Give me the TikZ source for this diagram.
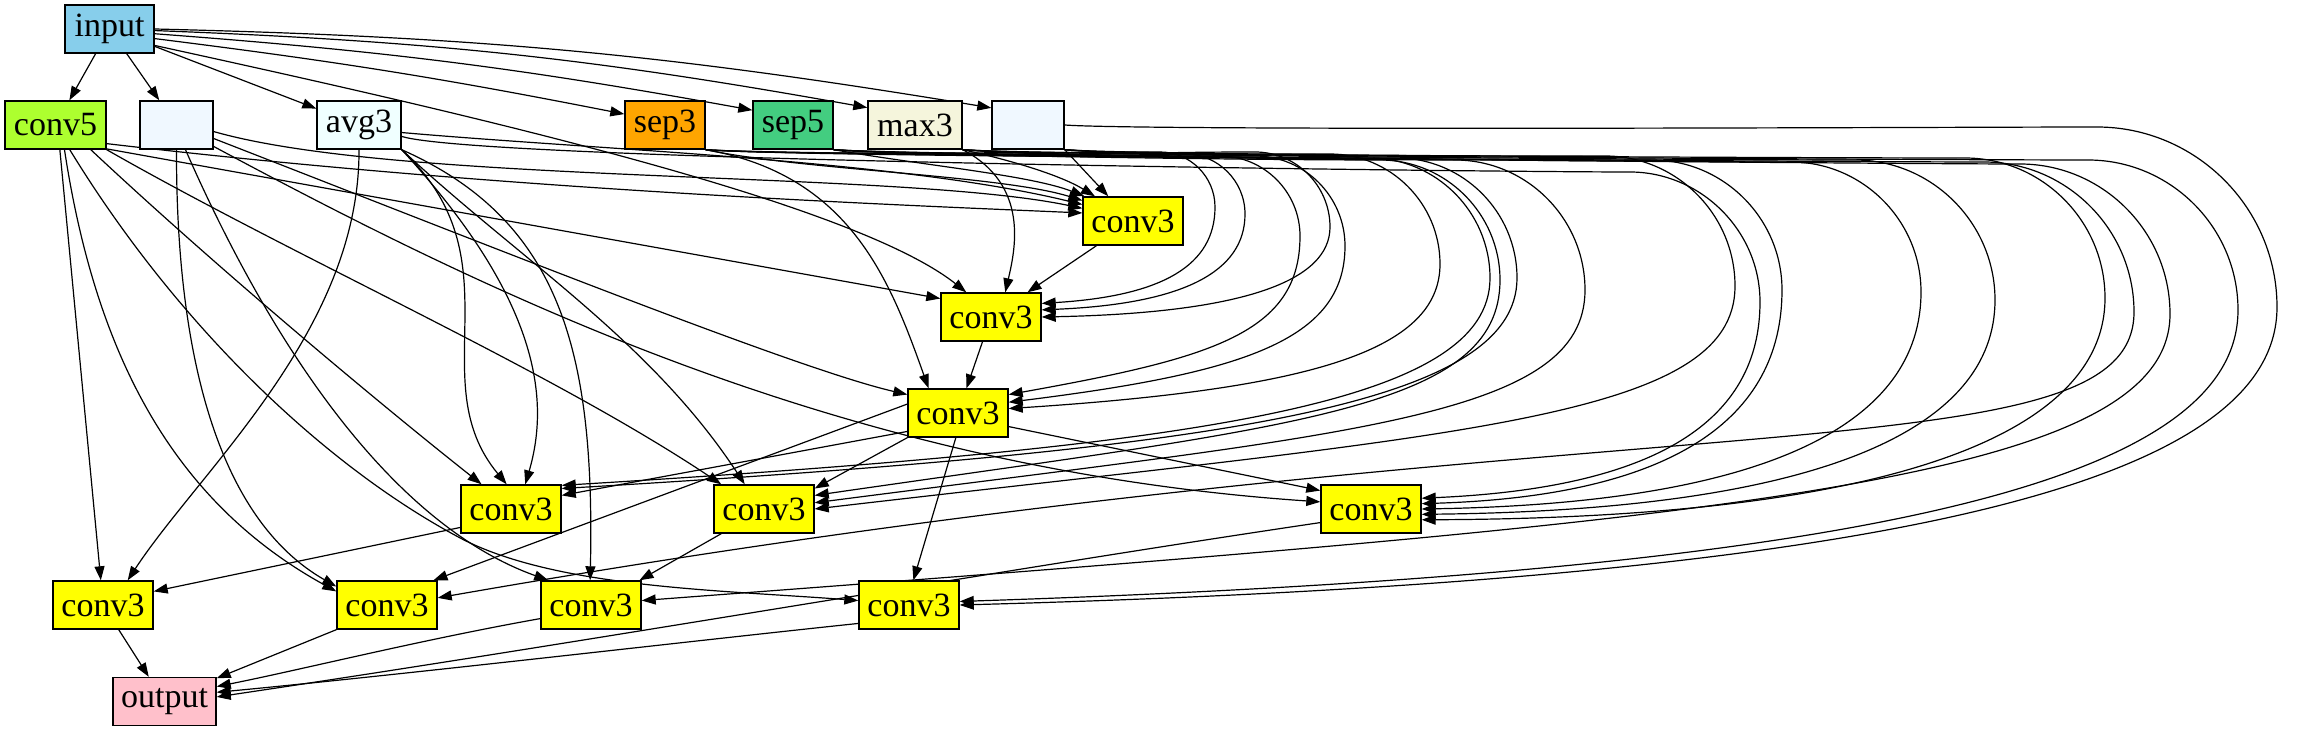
\documentclass[tikz,border=0pt]{standalone}
\usepackage{fontspec}
\setmainfont{Liberation Serif}
\usetikzlibrary{arrows.meta,calc}
\pgfdeclarelayer{bg}
\pgfsetlayers{bg,main}
\definecolor{skyC}{HTML}{87CEEB}
\definecolor{gyC}{HTML}{ADFF2F}
\definecolor{aliceC}{HTML}{F0F8FF}
\definecolor{azureC}{HTML}{F0FFFF}
\definecolor{orangeC}{HTML}{FFA500}
\definecolor{sgC}{HTML}{43CD80}
\definecolor{beigeC}{HTML}{F5F5DC}
\definecolor{pinkC}{HTML}{FFC0CB}
\definecolor{yelC}{HTML}{FFFF00}
% loop edge: src, tgt, xr, ytop, r, ty, tx, dy
\newcommand\rl[8]{\draw[e] (#1) .. controls +(80,6) and ({#3-#5-120},#4) .. ({#3-#5},#4)
  .. controls ({#3-0.45*#5},#4) and (#3,{#4+0.45*#5}) .. (#3,{#4+#5})
  .. controls (#3,{#4+#5+0.6*(#6-#4-#5)}) and ({#3-0.3*(#3-#7)},{#6-#8}) .. (#2);}
\begin{document}
\begin{tikzpicture}[x=0.5pt,y=-0.5pt,
  e/.style={-{Triangle[length=7pt,width=5pt]}, line width=0.6pt},
  box/.style={draw, line width=0.7pt, minimum height=24pt, inner sep=0pt, font=\fontsize{17}{20}\selectfont},
  cv/.style={box, fill=yelC, minimum width=50pt}]
\useasboundingbox (0,0) rectangle (2314,731);
% nodes
\node[box, fill=skyC, minimum width=44.5pt] (in) at (109.5,29) {input};
\node[box, fill=gyC, minimum width=50.5pt] (c5) at (55.5,125) {conv5};
\node[box, fill=aliceC, minimum width=36.5pt] (b1) at (176.5,125) {};
\node[box, fill=azureC, minimum width=42pt] (av) at (359,125) {avg3};
\node[box, fill=orangeC, minimum width=40pt] (s3) at (665,125) {sep3};
\node[box, fill=sgC, minimum width=40pt] (s5) at (793,125) {sep5};
\node[box, fill=beigeC, minimum width=47pt] (mx) at (915,125) {max3};
\node[box, fill=aliceC, minimum width=36pt] (b2) at (1028,125) {};
\node[cv] (A) at (1133,221) {conv3};
\node[cv] (B) at (991,317) {conv3};
\node[cv] (C) at (958,413) {conv3};
\node[cv] (D) at (511,509) {conv3};
\node[cv] (E) at (764,509) {conv3};
\node[cv] (F) at (1371,509) {conv3};
\node[cv] (G) at (103,605) {conv3};
\node[cv] (H) at (387,605) {conv3};
\node[cv] (I) at (591,605) {conv3};
\node[cv] (J) at (909,605) {conv3};
\node[box, fill=pinkC, minimum width=51.5pt] (out) at (164.5,701.5) {output};
\begin{pgfonlayer}{bg}
% input
\draw[e] (in) -- (c5);
\draw[e] (in) -- (b1);
\draw[e] (in) -- (av);
\draw[e] (in.-12) to[bend left=2] (s3.165);
\draw[e] (in.-6) to[bend left=3] (s5.160);
\draw[e] (in.-2) to[bend left=4] (mx.160);
\draw[e] (in.0) to[bend left=4] (b2.155);
\draw[e] (in.-20) .. controls (450,110) and (850,200) .. (B.135);
% conv5
\draw[e] (c5.-20) .. controls (500,190) and (900,205) .. (A.171);
\draw[e] (c5.-25) -- (B.160);
\draw[e] (c5.-35) .. controls (230,280) and (400,420) .. (D.140);
\draw[e] (c5.south east) .. controls (300,260) and (550,370) .. (E.150);
\draw[e] (c5.-80) -- (G.95);
\draw[e] (c5.-70) .. controls (95,350) and (170,500) .. (H.165);
\draw[e] (c5.-60) .. controls (180,330) and (330,470) .. (464,540) .. controls (560,588) and (720,590) .. (J.175);
% blank 1
\draw[e] (b1.-10) .. controls (400,185) and (900,170) .. (A.166);
\draw[e] (b1.-20) .. controls (500,250) and (800,370) .. (C.160);
\draw[e] (b1.-30) .. controls (500,300) and (850,470) .. (F.172);
\draw[e] (b1.south) .. controls (176,360) and (220,520) .. (H.160);
\draw[e] (b1.-70) .. controls (260,320) and (380,520) .. (I.150);
% avg3
\draw[e] (av.-10) .. controls (600,150) and (900,160) .. (A.162);
\draw[e] (av.south east) .. controls (520,260) and (420,380) .. (D.100);
\draw[e] (av.south east) .. controls (540,300) and (550,400) .. (D.60);
\draw[e] (av.south east) .. controls (520,260) and (650,340) .. (E.128);
\draw[e] (av.south east) .. controls (560,220) and (595,350) .. (I.92);
\draw[e] (av.south) .. controls (360,330) and (200,470) .. (G.45);
\draw[e] (av.-15) .. controls +(80,25) and (1500,172) .. (1630,172)
  .. controls (1700,172) and (1760,230) .. (1760,302)
  .. controls (1760,420) and (1658,488) .. (F.12);
% sep3, sep5, max3, blank 2 -> first conv3
\draw[e] (s3.south east) .. controls (800,170) and (1000,175) .. (A.158);
\draw[e] (s5.south east) .. controls (920,165) and (1030,175) .. (A.153);
\draw[e] (mx.south east) .. controls (1010,160) and (1060,175) .. (A.147);
\draw[e] (b2.south east) -- (A.135);
\draw[e] (mx.south east) .. controls (1030,185) and (1015,250) .. (B.60);
\draw[e] (s3.south east) .. controls (850,175) and (890,280) .. (C.140);
% conv3 chain
\draw[e] (A) -- (B);
\draw[e] (B) -- (C);
\draw[e] (C.200) -- (D.15);
\draw[e] (C.south west) -- (E.22);
\draw[e] (C.-15) -- (F.160);
\draw[e] (C.170) -- (H.28);
\draw[e] (C.-95) -- (J.80);
\draw[e] (D.200) -- (G.15);
\draw[e] (E.210) -- (I.27);
% outputs
\draw[e] (G) -- (out);
\draw[e] (H.south west) -- (out.24);
\draw[e] (I.195) .. controls (420,640) and (300,670) .. (out.16);
\draw[e] (J.200) .. controls (700,640) and (400,675) .. (out.10);
\draw[e] (F.195) .. controls (1000,570) and (600,640) .. (out.5);
% right loops
\rl{s3.south east}{B.15}{1215}{152}{55}{304}{1041}{8}
\rl{s5.south east}{B.8}{1245}{154}{60}{310}{1041}{6}
\rl{b2.south east}{B.0}{1330}{152}{75}{317}{1041}{4}
\rl{s5.south east}{C.20}{1300}{156}{80}{398}{1008}{40}
\rl{mx.south east}{C.12}{1345}{156}{90}{403}{1008}{30}
\rl{b2.south east}{C.5}{1440}{154}{110}{409}{1008}{20}
\rl{s3.south east}{D.25}{1490}{158}{120}{486}{561}{40}
\rl{mx.south east}{D.22}{1517}{158}{120}{489}{561}{40}
\rl{s5.south east}{E.15}{1500}{160}{120}{496}{814}{70}
\rl{mx.south east}{E.7}{1585}{160}{130}{503}{814}{70}
\rl{b2.south east}{E.0}{1735}{156}{130}{509}{814}{75}
\rl{s3.south east}{F.6}{1782}{160}{130}{504}{1421}{8}
\rl{s5.south east}{F.0}{1921}{162}{130}{509}{1421}{6}
\rl{mx.south east}{F.-6}{1995}{160}{140}{514}{1421}{4}
\rl{b2.south east}{F.-12}{2105}{158}{140}{520}{1421}{2}
\rl{s3.south east}{H.8}{2134}{162}{150}{598}{437}{208}
\rl{s5.south east}{I.5}{2170}{164}{150}{600}{641}{80}
\rl{mx.south east}{J.4}{2238}{160}{150}{602}{959}{30}
\rl{b2.east}{J.0}{2277}{127}{180}{605}{959}{25}
\end{pgfonlayer}
\end{tikzpicture}
\end{document}
